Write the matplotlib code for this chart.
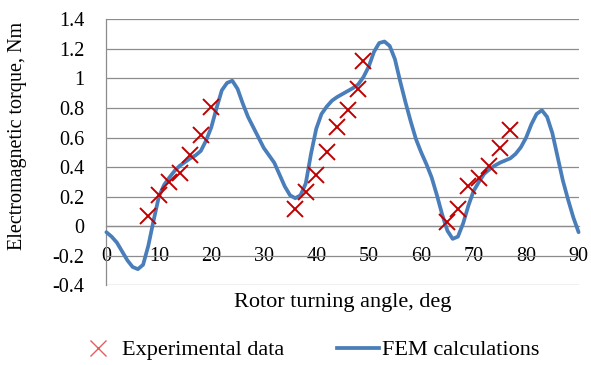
import matplotlib
matplotlib.use("Agg")
import matplotlib.pyplot as plt
from matplotlib.lines import Line2D

plt.rcParams['font.family'] = ['Liberation Serif', 'DejaVu Serif']

# FEM calculations (deg, Nm)
fem_angle = list(range(0, 91))
fem_torque = [-0.04, -0.07, -0.11, -0.17, -0.23, -0.275, -0.29, -0.26, -0.13, 0.04,
              0.20, 0.28, 0.33, 0.375, 0.41, 0.435, 0.46, 0.48, 0.51, 0.58,
              0.67, 0.80, 0.92, 0.97, 0.985, 0.93, 0.83, 0.74, 0.67, 0.60,
              0.53, 0.48, 0.43, 0.35, 0.27, 0.21, 0.19, 0.21, 0.29, 0.49,
              0.66, 0.76, 0.81, 0.85, 0.875, 0.895, 0.915, 0.935, 0.96, 1.01,
              1.08, 1.18, 1.24, 1.25, 1.22, 1.13, 0.98, 0.84, 0.71, 0.59,
              0.50, 0.42, 0.33, 0.21, 0.08, -0.03, -0.085, -0.07, 0.02, 0.14,
              0.24, 0.30, 0.355, 0.385, 0.41, 0.43, 0.445, 0.46, 0.49, 0.535,
              0.60, 0.69, 0.76, 0.785, 0.74, 0.63, 0.47, 0.31, 0.18, 0.06, -0.04]

# experimental data
exp_angle = [8, 10, 12, 14, 16, 18, 20,
             36, 38, 40, 42, 44, 46, 48, 49,
             65, 67, 69, 71, 73, 75, 77]
exp_torque = [0.07, 0.21, 0.30, 0.36, 0.48, 0.62, 0.81,
              0.12, 0.23, 0.35, 0.50, 0.67, 0.79, 0.93, 1.12,
              0.03, 0.12, 0.27, 0.33, 0.41, 0.53, 0.65]

xticks = [0, 10, 20, 30, 40, 50, 60, 70, 80, 90]
yticks = [-0.4, -0.2, 0, 0.2, 0.4, 0.6, 0.8, 1.0, 1.2, 1.4]
ytick_labels = ['-0.4', '-0.2', '0', '0.2', '0.4', '0.6', '0.8', '1', '1.2', '1.4']

red = '#C00000'
blue = '#4A7EBB'
grid = '#8C8C8C'

fig = plt.figure(figsize=(5.91, 3.65), dpi=100)
ax = fig.add_axes([0.180, 0.218, 0.799, 0.729])

ax.set_xlim(0, 90)
ax.set_ylim(-0.4, 1.4)
ax.set_yticks(yticks)
ax.set_yticklabels(ytick_labels)
ax.set_xticks(xticks)
ax.grid(axis='y', color=grid, linewidth=0.9)
ax.set_axisbelow(True)

for s in ['top', 'right']:
    ax.spines[s].set_visible(False)
ax.spines['left'].set_color(grid)
ax.spines['left'].set_linewidth(0.9)
ax.spines['bottom'].set_position(('data', 0))
ax.spines['bottom'].set_color(grid)
ax.spines['bottom'].set_linewidth(0.9)
ax.tick_params(axis='y', length=0, pad=16, labelsize=14.5)
ax.tick_params(axis='x', length=0, pad=15, labelsize=14.5)

ax.plot(fem_angle, fem_torque, color=blue, linewidth=2.7, zorder=3,
        solid_capstyle='round', clip_on=False)
ax.plot(exp_angle, exp_torque, linestyle='none', marker='x', markersize=11,
        markeredgewidth=1.4, color=red, zorder=4)

fig.text(18 / 591, 1 - 136 / 365, 'Electromagnetic torque, Nm', rotation=90,
         ha='center', va='center', fontsize=14.5)
fig.text(343 / 591, 1 - 303 / 365, 'Rotor turning angle, deg',
         ha='center', va='center', fontsize=16)

handles = [Line2D([], [], linestyle='none', marker='x', markersize=11,
                  markeredgewidth=1.0, color='#E06060'),
           Line2D([], [], color=blue, linewidth=2.7)]
fig.legend(handles, ['Experimental data', 'FEM calculations'], loc='center',
           bbox_to_anchor=(308 / 591, 1 - 350 / 365), ncol=2, frameon=False,
           fontsize=16, handlelength=1.9, handletextpad=0.1, columnspacing=2.4)

fig.savefig('out.png', dpi=100)
